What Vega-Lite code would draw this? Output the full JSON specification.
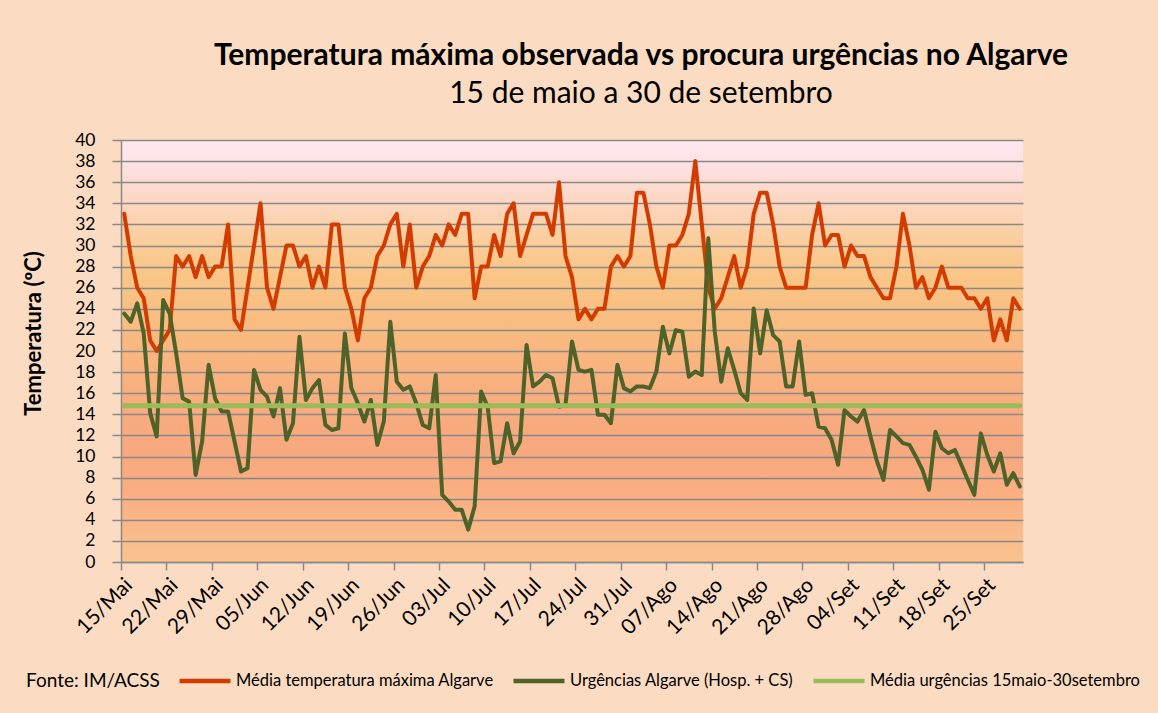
{
  "$schema": "https://vega.github.io/schema/vega-lite/v6.json",
  "width": 902,
  "height": 422,
  "autosize": {"type": "none"},
  "padding": {"left": 121, "top": 140, "right": 135, "bottom": 151},
  "background": "#fbdcc2",
  "config": {
    "font": "Lato",
    "view": {
      "stroke": null,
      "fill": {
        "gradient": "linear", "x1": 0, "y1": 0, "x2": 0, "y2": 1,
        "stops": [
          {"offset": 0, "color": "#fde8f0"},
          {"offset": 0.05, "color": "#fde3e6"},
          {"offset": 0.1, "color": "#fcdcd4"},
          {"offset": 0.15, "color": "#fcd6c0"},
          {"offset": 0.2, "color": "#fbd2ad"},
          {"offset": 0.25, "color": "#fbcc98"},
          {"offset": 0.3, "color": "#fac78a"},
          {"offset": 0.35, "color": "#f9c485"},
          {"offset": 0.4, "color": "#f9bf82"},
          {"offset": 0.45, "color": "#f9bb80"},
          {"offset": 0.55, "color": "#f8b27f"},
          {"offset": 0.65, "color": "#f8ab7f"},
          {"offset": 0.75, "color": "#f8a87f"},
          {"offset": 0.85, "color": "#f9b082"},
          {"offset": 0.95, "color": "#fabd8b"},
          {"offset": 1, "color": "#fac38f"}
        ]
      }
    },
    "axis": {
      "domainColor": "#898989", "tickColor": "#898989", "gridColor": "#898989",
      "domainWidth": 1.5, "tickWidth": 1.5, "gridWidth": 1.5,
      "labelColor": "black", "titleColor": "black",
      "labelFont": "Lato", "titleFont": "Lato"
    }
  },
  "title": {
    "text": "Temperatura máxima observada vs procura urgências no Algarve",
    "subtitle": "15 de maio a 30 de setembro",
    "anchor": "middle",
    "dx": 69,
    "offset": 22,
    "font": "Lato",
    "fontSize": 30,
    "fontWeight": "bold",
    "color": "black",
    "subtitleFont": "Lato",
    "subtitleFontSize": 30,
    "subtitleColor": "black",
    "subtitlePadding": 8
  },
  "data": {
    "values": [
      {"dia": "2011-05-15", "temp": 33, "urg": 1186, "media": 913},
      {"dia": "2011-05-16", "temp": 29, "urg": 1162, "media": 913},
      {"dia": "2011-05-17", "temp": 26, "urg": 1216, "media": 913},
      {"dia": "2011-05-18", "temp": 25, "urg": 1127, "media": 913},
      {"dia": "2011-05-19", "temp": 21, "urg": 891, "media": 913},
      {"dia": "2011-05-20", "temp": 20, "urg": 822, "media": 913},
      {"dia": "2011-05-21", "temp": 21, "urg": 1226, "media": 913},
      {"dia": "2011-05-22", "temp": 22, "urg": 1186, "media": 913},
      {"dia": "2011-05-23", "temp": 29, "urg": 1068, "media": 913},
      {"dia": "2011-05-24", "temp": 28, "urg": 935, "media": 913},
      {"dia": "2011-05-25", "temp": 29, "urg": 925, "media": 913},
      {"dia": "2011-05-26", "temp": 27, "urg": 708, "media": 913},
      {"dia": "2011-05-27", "temp": 29, "urg": 807, "media": 913},
      {"dia": "2011-05-28", "temp": 27, "urg": 1034, "media": 913},
      {"dia": "2011-05-29", "temp": 28, "urg": 935, "media": 913},
      {"dia": "2011-05-30", "temp": 28, "urg": 896, "media": 913},
      {"dia": "2011-05-31", "temp": 32, "urg": 896, "media": 913},
      {"dia": "2011-06-01", "temp": 23, "urg": 807, "media": 913},
      {"dia": "2011-06-02", "temp": 22, "urg": 718, "media": 913},
      {"dia": "2011-06-03", "temp": 26, "urg": 728, "media": 913},
      {"dia": "2011-06-04", "temp": 30, "urg": 1019, "media": 913},
      {"dia": "2011-06-05", "temp": 34, "urg": 960, "media": 913},
      {"dia": "2011-06-06", "temp": 26, "urg": 940, "media": 913},
      {"dia": "2011-06-07", "temp": 24, "urg": 881, "media": 913},
      {"dia": "2011-06-08", "temp": 27, "urg": 965, "media": 913},
      {"dia": "2011-06-09", "temp": 30, "urg": 812, "media": 913},
      {"dia": "2011-06-10", "temp": 30, "urg": 861, "media": 913},
      {"dia": "2011-06-11", "temp": 28, "urg": 1117, "media": 913},
      {"dia": "2011-06-12", "temp": 29, "urg": 930, "media": 913},
      {"dia": "2011-06-13", "temp": 26, "urg": 965, "media": 913},
      {"dia": "2011-06-14", "temp": 28, "urg": 989, "media": 913},
      {"dia": "2011-06-15", "temp": 26, "urg": 856, "media": 913},
      {"dia": "2011-06-16", "temp": 32, "urg": 841, "media": 913},
      {"dia": "2011-06-17", "temp": 32, "urg": 846, "media": 913},
      {"dia": "2011-06-18", "temp": 26, "urg": 1127, "media": 913},
      {"dia": "2011-06-19", "temp": 24, "urg": 965, "media": 913},
      {"dia": "2011-06-20", "temp": 21, "urg": 920, "media": 913},
      {"dia": "2011-06-21", "temp": 25, "urg": 866, "media": 913},
      {"dia": "2011-06-22", "temp": 26, "urg": 930, "media": 913},
      {"dia": "2011-06-23", "temp": 29, "urg": 797, "media": 913},
      {"dia": "2011-06-24", "temp": 30, "urg": 866, "media": 913},
      {"dia": "2011-06-25", "temp": 32, "urg": 1162, "media": 913},
      {"dia": "2011-06-26", "temp": 33, "urg": 984, "media": 913},
      {"dia": "2011-06-27", "temp": 28, "urg": 960, "media": 913},
      {"dia": "2011-06-28", "temp": 32, "urg": 970, "media": 913},
      {"dia": "2011-06-29", "temp": 26, "urg": 920, "media": 913},
      {"dia": "2011-06-30", "temp": 28, "urg": 856, "media": 913},
      {"dia": "2011-07-01", "temp": 29, "urg": 846, "media": 913},
      {"dia": "2011-07-02", "temp": 31, "urg": 1004, "media": 913},
      {"dia": "2011-07-03", "temp": 30, "urg": 649, "media": 913},
      {"dia": "2011-07-04", "temp": 32, "urg": 629, "media": 913},
      {"dia": "2011-07-05", "temp": 31, "urg": 605, "media": 913},
      {"dia": "2011-07-06", "temp": 33, "urg": 605, "media": 913},
      {"dia": "2011-07-07", "temp": 33, "urg": 546, "media": 913},
      {"dia": "2011-07-08", "temp": 25, "urg": 615, "media": 913},
      {"dia": "2011-07-09", "temp": 28, "urg": 955, "media": 913},
      {"dia": "2011-07-10", "temp": 28, "urg": 910, "media": 913},
      {"dia": "2011-07-11", "temp": 31, "urg": 743, "media": 913},
      {"dia": "2011-07-12", "temp": 29, "urg": 748, "media": 913},
      {"dia": "2011-07-13", "temp": 33, "urg": 861, "media": 913},
      {"dia": "2011-07-14", "temp": 34, "urg": 772, "media": 913},
      {"dia": "2011-07-15", "temp": 29, "urg": 807, "media": 913},
      {"dia": "2011-07-16", "temp": 31, "urg": 1093, "media": 913},
      {"dia": "2011-07-17", "temp": 33, "urg": 970, "media": 913},
      {"dia": "2011-07-18", "temp": 33, "urg": 984, "media": 913},
      {"dia": "2011-07-19", "temp": 33, "urg": 1004, "media": 913},
      {"dia": "2011-07-20", "temp": 31, "urg": 994, "media": 913},
      {"dia": "2011-07-21", "temp": 36, "urg": 910, "media": 913},
      {"dia": "2011-07-22", "temp": 29, "urg": 915, "media": 913},
      {"dia": "2011-07-23", "temp": 27, "urg": 1103, "media": 913},
      {"dia": "2011-07-24", "temp": 23, "urg": 1019, "media": 913},
      {"dia": "2011-07-25", "temp": 24, "urg": 1014, "media": 913},
      {"dia": "2011-07-26", "temp": 23, "urg": 1019, "media": 913},
      {"dia": "2011-07-27", "temp": 24, "urg": 886, "media": 913},
      {"dia": "2011-07-28", "temp": 24, "urg": 886, "media": 913},
      {"dia": "2011-07-29", "temp": 28, "urg": 861, "media": 913},
      {"dia": "2011-07-30", "temp": 29, "urg": 1034, "media": 913},
      {"dia": "2011-07-31", "temp": 28, "urg": 965, "media": 913},
      {"dia": "2011-08-01", "temp": 29, "urg": 955, "media": 913},
      {"dia": "2011-08-02", "temp": 35, "urg": 970, "media": 913},
      {"dia": "2011-08-03", "temp": 35, "urg": 970, "media": 913},
      {"dia": "2011-08-04", "temp": 32, "urg": 965, "media": 913},
      {"dia": "2011-08-05", "temp": 28, "urg": 1014, "media": 913},
      {"dia": "2011-08-06", "temp": 26, "urg": 1147, "media": 913},
      {"dia": "2011-08-07", "temp": 30, "urg": 1068, "media": 913},
      {"dia": "2011-08-08", "temp": 30, "urg": 1137, "media": 913},
      {"dia": "2011-08-09", "temp": 31, "urg": 1132, "media": 913},
      {"dia": "2011-08-10", "temp": 33, "urg": 999, "media": 913},
      {"dia": "2011-08-11", "temp": 38, "urg": 1014, "media": 913},
      {"dia": "2011-08-12", "temp": 32, "urg": 1004, "media": 913},
      {"dia": "2011-08-13", "temp": 26, "urg": 1409, "media": 913},
      {"dia": "2011-08-14", "temp": 24, "urg": 1132, "media": 913},
      {"dia": "2011-08-15", "temp": 25, "urg": 984, "media": 913},
      {"dia": "2011-08-16", "temp": 27, "urg": 1083, "media": 913},
      {"dia": "2011-08-17", "temp": 29, "urg": 1019, "media": 913},
      {"dia": "2011-08-18", "temp": 26, "urg": 950, "media": 913},
      {"dia": "2011-08-19", "temp": 28, "urg": 930, "media": 913},
      {"dia": "2011-08-20", "temp": 33, "urg": 1201, "media": 913},
      {"dia": "2011-08-21", "temp": 35, "urg": 1068, "media": 913},
      {"dia": "2011-08-22", "temp": 35, "urg": 1196, "media": 913},
      {"dia": "2011-08-23", "temp": 32, "urg": 1122, "media": 913},
      {"dia": "2011-08-24", "temp": 28, "urg": 1103, "media": 913},
      {"dia": "2011-08-25", "temp": 26, "urg": 970, "media": 913},
      {"dia": "2011-08-26", "temp": 26, "urg": 970, "media": 913},
      {"dia": "2011-08-27", "temp": 26, "urg": 1103, "media": 913},
      {"dia": "2011-08-28", "temp": 26, "urg": 945, "media": 913},
      {"dia": "2011-08-29", "temp": 31, "urg": 950, "media": 913},
      {"dia": "2011-08-30", "temp": 34, "urg": 851, "media": 913},
      {"dia": "2011-08-31", "temp": 30, "urg": 846, "media": 913},
      {"dia": "2011-09-01", "temp": 31, "urg": 812, "media": 913},
      {"dia": "2011-09-02", "temp": 31, "urg": 738, "media": 913},
      {"dia": "2011-09-03", "temp": 28, "urg": 900, "media": 913},
      {"dia": "2011-09-04", "temp": 30, "urg": 881, "media": 913},
      {"dia": "2011-09-05", "temp": 29, "urg": 866, "media": 913},
      {"dia": "2011-09-06", "temp": 29, "urg": 900, "media": 913},
      {"dia": "2011-09-07", "temp": 27, "urg": 822, "media": 913},
      {"dia": "2011-09-08", "temp": 26, "urg": 748, "media": 913},
      {"dia": "2011-09-09", "temp": 25, "urg": 693, "media": 913},
      {"dia": "2011-09-10", "temp": 25, "urg": 841, "media": 913},
      {"dia": "2011-09-11", "temp": 28, "urg": 822, "media": 913},
      {"dia": "2011-09-12", "temp": 33, "urg": 802, "media": 913},
      {"dia": "2011-09-13", "temp": 30, "urg": 797, "media": 913},
      {"dia": "2011-09-14", "temp": 26, "urg": 762, "media": 913},
      {"dia": "2011-09-15", "temp": 27, "urg": 723, "media": 913},
      {"dia": "2011-09-16", "temp": 25, "urg": 664, "media": 913},
      {"dia": "2011-09-17", "temp": 26, "urg": 836, "media": 913},
      {"dia": "2011-09-18", "temp": 28, "urg": 787, "media": 913},
      {"dia": "2011-09-19", "temp": 26, "urg": 772, "media": 913},
      {"dia": "2011-09-20", "temp": 26, "urg": 782, "media": 913},
      {"dia": "2011-09-21", "temp": 26, "urg": 738, "media": 913},
      {"dia": "2011-09-22", "temp": 25, "urg": 693, "media": 913},
      {"dia": "2011-09-23", "temp": 25, "urg": 649, "media": 913},
      {"dia": "2011-09-24", "temp": 24, "urg": 831, "media": 913},
      {"dia": "2011-09-25", "temp": 25, "urg": 767, "media": 913},
      {"dia": "2011-09-26", "temp": 21, "urg": 718, "media": 913},
      {"dia": "2011-09-27", "temp": 23, "urg": 772, "media": 913},
      {"dia": "2011-09-28", "temp": 21, "urg": 679, "media": 913},
      {"dia": "2011-09-29", "temp": 25, "urg": 713, "media": 913},
      {"dia": "2011-09-30", "temp": 24, "urg": 674, "media": 913}
    ]
  },
  "layer": [
    {
      "mark": {"type": "line", "strokeWidth": 4, "strokeJoin": "round", "strokeCap": "round"},
      "encoding": {
        "x": {
          "field": "dia", "type": "temporal", "timeUnit": "utcyearmonthdate", "bandPosition": 0.5,
          "scale": {"domain": [{"year": 2011, "month": 5, "date": 15, "utc": true}, {"year": 2011, "month": 10, "date": 1, "utc": true}], "nice": false},
          "axis": {
            "title": null,
            "grid": false,
            "values": [
              {"year": 2011, "month": 5, "date": 15, "utc": true},
              {"year": 2011, "month": 5, "date": 22, "utc": true},
              {"year": 2011, "month": 5, "date": 29, "utc": true},
              {"year": 2011, "month": 6, "date": 5, "utc": true},
              {"year": 2011, "month": 6, "date": 12, "utc": true},
              {"year": 2011, "month": 6, "date": 19, "utc": true},
              {"year": 2011, "month": 6, "date": 26, "utc": true},
              {"year": 2011, "month": 7, "date": 3, "utc": true},
              {"year": 2011, "month": 7, "date": 10, "utc": true},
              {"year": 2011, "month": 7, "date": 17, "utc": true},
              {"year": 2011, "month": 7, "date": 24, "utc": true},
              {"year": 2011, "month": 7, "date": 31, "utc": true},
              {"year": 2011, "month": 8, "date": 7, "utc": true},
              {"year": 2011, "month": 8, "date": 14, "utc": true},
              {"year": 2011, "month": 8, "date": 21, "utc": true},
              {"year": 2011, "month": 8, "date": 28, "utc": true},
              {"year": 2011, "month": 9, "date": 4, "utc": true},
              {"year": 2011, "month": 9, "date": 11, "utc": true},
              {"year": 2011, "month": 9, "date": 18, "utc": true},
              {"year": 2011, "month": 9, "date": 25, "utc": true}
            ],
            "labelExpr": "utcFormat(datum.value, '%d') + '/' + ['Jan','Fev','Mar','Abr','Mai','Jun','Jul','Ago','Set','Out','Nov','Dez'][utcmonth(datum.value)]",
            "labelAngle": -45,
            "labelFontSize": 21,
            "tickSize": 8,
            "labelPadding": 4,
            "labelOverlap": false
          }
        },
        "y": {
          "field": "temp", "type": "quantitative",
          "scale": {"domain": [0, 40], "nice": false, "zero": false},
          "axis": {
            "orient": "left",
            "values": [0, 2, 4, 6, 8, 10, 12, 14, 16, 18, 20, 22, 24, 26, 28, 30, 32, 34, 36, 38, 40],
            "grid": true,
            "tickSize": 9,
            "labelPadding": 17,
            "labelFontSize": 17.5,
            "labelOverlap": false,
            "title": "Temperatura (ºC)",
            "titleFontSize": 22,
            "titleFontWeight": "bold",
            "titleAngle": 270,
            "titleBaseline": "middle",
            "titleAlign": "center",
            "titleX": -88,
            "titleY": 193
          }
        },
        "color": {
          "datum": "Média temperatura máxima Algarve",
          "type": "nominal",
          "scale": {
            "domain": ["Média temperatura máxima Algarve", "Urgências Algarve (Hosp. + CS)", "Média urgências 15maio-30setembro"],
            "range": ["#d23c00", "#4f6228", "#9bbb59"]
          },
          "legend": {
            "orient": "none",
            "legendX": -95,
            "legendY": 513,
            "direction": "horizontal",
            "title": "Fonte: IM/ACSS",
            "titleOrient": "left",
            "titleAnchor": "middle",
            "titleBaseline": "top",
            "titleFontSize": 19,
            "titleFontWeight": "normal",
            "titleColor": "black",
            "titlePadding": 17,
            "titleFont": "Lato",
            "symbolType": "stroke",
            "symbolSize": 2600,
            "symbolStrokeWidth": 4.5,
            "labelFontSize": 16.5,
            "labelFont": "Lato",
            "labelColor": "black",
            "labelOffset": 3,
            "columnPadding": 10,
            "labelLimit": 400,
            "padding": 0
          }
        }
      }
    },
    {
      "layer": [
        {
          "mark": {"type": "line", "strokeWidth": 4, "strokeJoin": "round", "strokeCap": "round"},
          "encoding": {
            "x": {"field": "dia", "type": "temporal", "timeUnit": "utcyearmonthdate", "bandPosition": 0.5},
            "y": {
              "field": "urg", "type": "quantitative",
              "scale": {"domain": [450, 1700], "nice": false, "zero": false},
              "axis": {
                "orient": "right",
                "values": [450, 575, 700, 825, 950, 1075, 1200, 1325, 1450, 1575, 1700],
                "grid": false,
                "tickSize": 9,
                "labelPadding": 17,
                "labelFontSize": 20,
                "labelOverlap": false,
                "title": "Urgências (n.º)",
                "titleFontSize": 22,
                "titleFontWeight": "bold",
                "titleAngle": 270,
                "titleBaseline": "middle",
                "titleAlign": "center",
                "titleX": 119,
                "titleY": 183
              }
            },
            "color": {"datum": "Urgências Algarve (Hosp. + CS)", "type": "nominal"}
          }
        },
        {
          "mark": {"type": "line", "strokeWidth": 5, "strokeCap": "round"},
          "encoding": {
            "x": {"field": "dia", "type": "temporal", "timeUnit": "utcyearmonthdate", "bandPosition": 0.5},
            "y": {
              "field": "media", "type": "quantitative",
              "scale": {"domain": [450, 1700], "nice": false, "zero": false},
              "axis": null
            },
            "color": {"datum": "Média urgências 15maio-30setembro", "type": "nominal"}
          }
        }
      ]
    }
  ],
  "resolve": {"scale": {"y": "independent"}}
}
